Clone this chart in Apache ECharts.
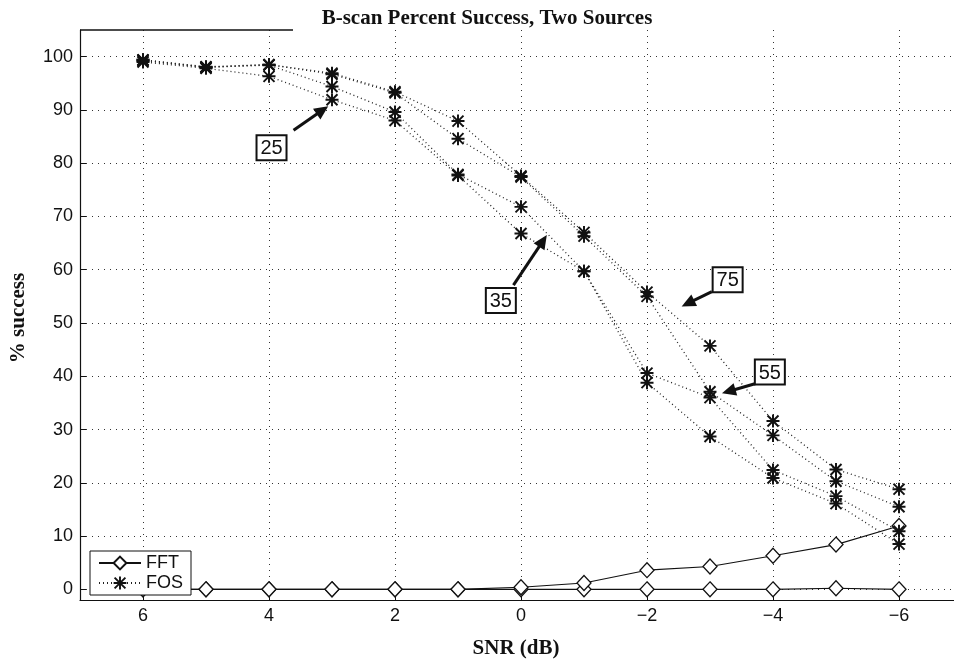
<!DOCTYPE html>
<html>
<head>
<meta charset="utf-8">
<script src="https://cdn.jsdelivr.net/npm/echarts@6/dist/echarts.min.js"></script>
<style>
html,body{margin:0;padding:0;background:#fff;overflow:hidden;}
#chart{width:954px;height:659px;}
</style>
</head>
<body>
<div id="chart"></div>
<script>
// ---- data ----
const snr = [6, 5, 4, 3, 2, 1, 0, -1, -2, -3, -4, -5, -6];
const fos75 = [99.4, 98.1, 98.5, 96.9, 93.4, 87.9, 77.6, 67.0, 55.8, 45.7, 31.6, 22.5, 18.8];
const fos55 = [99.4, 98.0, 98.5, 96.7, 93.2, 84.6, 77.4, 66.3, 55.0, 37.1, 28.9, 20.3, 15.5];
const fos35 = [99.2, 98.0, 98.4, 94.4, 89.6, 77.9, 71.8, 59.7, 40.6, 36.0, 22.4, 17.5, 10.9];
const fos25 = [99.0, 97.8, 96.3, 91.9, 88.0, 77.7, 66.8, 59.7, 38.8, 28.7, 20.9, 16.1, 8.5];
const fftHigh = [0, 0, 0, 0, 0, 0, 0.4, 1.2, 3.6, 4.3, 6.3, 8.4, 11.9];
const fftLow = [0, 0, 0, 0, 0, 0, 0, 0, 0, 0, 0, 0.2, 0];
const xTicks = [6, 4, 2, 0, -2, -4, -6];
const yTicks = [0, 10, 20, 30, 40, 50, 60, 70, 80, 90, 100];
const topTicks = [6, 4];
// annotation labels: [label, box centre, arrow tail, arrow tip] in data coords (SNR, %)
const annLabels = ['25', '35', '75', '55'];
const annBox  = [[3.96, 82.9], [0.32, 54.2], [-3.28, 58.1], [-3.95, 40.8]];
const annTail = [[3.61, 86.2], [0.12, 57.1], [-3.03, 55.9], [-3.74, 38.7]];
const annTip  = [[3.06, 90.7], [-0.41, 66.5], [-2.55, 53.1], [-3.19, 36.8]];

const pair = (ys) => snr.map((x, i) => [x, ys[i]]);
const asterisk = 'path://M8.5 0L11.5 0L11.5 20L8.5 20Z M0 8.5L20 8.5L20 11.5L0 11.5Z M2.6 0.5L19.5 17.4L17.4 19.5L0.5 2.6Z M17.4 0.5L19.5 2.6L2.6 19.5L0.5 17.4Z';

const sansFont = '"Liberation Sans", Arial, sans-serif';
const serifFont = '"Liberation Serif", "Times New Roman", serif';

const chart = echarts.init(document.getElementById('chart'), null, {renderer: 'canvas'});

function fosSeries(ys) {
  return {
    name: 'FOS', type: 'line', data: pair(ys),
    symbol: asterisk, symbolSize: 13,
    itemStyle: {color: '#111'},
    lineStyle: {color: '#222', width: 1.3, type: [1, 3]},
    z: 3
  };
}
function fftSeries(ys) {
  return {
    name: 'FFT', type: 'line', data: pair(ys),
    symbol: 'diamond', symbolSize: [14, 15],
    itemStyle: {color: '#fff', borderColor: '#111', borderWidth: 1.3},
    lineStyle: {color: '#111', width: 1.1, type: 'solid'},
    z: 2
  };
}

const option = {
  animation: false,
  backgroundColor: '#fff',
  title: {
    text: 'B-scan Percent Success, Two Sources',
    left: 482, top: 3, textAlign: 'center',
    textStyle: {fontFamily: serifFont, fontWeight: 'bold', fontSize: 21, color: '#111'}
  },
  grid: {left: 80, top: 30, width: 882, height: 570, containLabel: false, outerBoundsMode: 'none'},
  legend: {
    left: 90, top: 551, orient: 'vertical',
    data: ['FFT', 'FOS'],
    backgroundColor: '#fff', borderColor: '#111', borderWidth: 1,
    padding: [3, 8, 3, 8], itemGap: 2, itemWidth: 42, itemHeight: 16,
    textStyle: {fontFamily: sansFont, fontSize: 18, color: '#111'},
    z: 10
  },
  xAxis: [{
    type: 'value', min: -7, max: 7, inverse: true,
    axisLine: {show: true, onZero: false, lineStyle: {color: '#111', width: 1.2}},
    axisTick: {show: true, inside: true, length: 5, customValues: xTicks, lineStyle: {color: '#111'}},
    axisLabel: {customValues: xTicks, color: '#111', fontFamily: sansFont, fontSize: 18, margin: 7,
      formatter: v => String(v).replace('-', '\u2212')},
    splitLine: {show: true, lineStyle: {color: '#333', width: 1, type: [1, 5]}}
  }, {
    type: 'value', min: -7, max: 7, inverse: true, position: 'top',
    axisLine: {show: false},
    axisTick: {show: true, inside: true, length: 5, customValues: topTicks, lineStyle: {color: '#111'}},
    axisLabel: {show: false},
    splitLine: {show: false}
  }],
  yAxis: {
    type: 'value', min: -2, max: 105,
    axisLine: {show: true, onZero: false, lineStyle: {color: '#111', width: 1.2}},
    axisTick: {show: true, inside: true, length: 6, customValues: yTicks, lineStyle: {color: '#111'}},
    axisLabel: {customValues: yTicks, color: '#111', fontFamily: sansFont, fontSize: 18, margin: 7},
    splitLine: {show: true, lineStyle: {color: '#333', width: 1, type: [1, 5]}}
  },
  series: [
    fftSeries(fftLow), fftSeries(fftHigh),
    fosSeries(fos25), fosSeries(fos35), fosSeries(fos55), fosSeries(fos75)
  ]
};
chart.setOption(option);

// ---- decorations: axis names, partial top frame, annotation boxes and arrows ----
const g = [];
g.push({type: 'line', shape: {x1: 80, y1: 30, x2: 293, y2: 30}, style: {stroke: '#111', lineWidth: 1.5}, z: 5});
g.push({type: 'text', x: 516, y: 649, style: {text: 'SNR (dB)', font: 'bold 21px ' + serifFont, fill: '#111', textAlign: 'center', textVerticalAlign: 'middle'}});
g.push({type: 'text', x: 19, y: 318, rotation: Math.PI / 2, style: {text: '% success', font: 'bold 21px ' + serifFont, fill: '#111', textAlign: 'center', textVerticalAlign: 'middle'}});

annLabels.forEach((lab, i) => {
  const b = chart.convertToPixel({gridIndex: 0}, annBox[i]);
  const t0 = chart.convertToPixel({gridIndex: 0}, annTail[i]);
  const t1 = chart.convertToPixel({gridIndex: 0}, annTip[i]);
  const dx = t1[0] - t0[0], dy = t1[1] - t0[1];
  const L = Math.sqrt(dx * dx + dy * dy);
  const ux = dx / L, uy = dy / L, nx = -uy, ny = ux;
  const hl = 14, hw = 6.5;
  const bx = t1[0] - ux * hl, by = t1[1] - uy * hl;
  g.push({type: 'line', shape: {x1: t0[0], y1: t0[1], x2: bx + ux * 2, y2: by + uy * 2}, style: {stroke: '#111', lineWidth: 3}, z: 20});
  g.push({type: 'polygon', shape: {points: [[t1[0], t1[1]], [bx + nx * hw, by + ny * hw], [bx - nx * hw, by - ny * hw]]}, style: {fill: '#111'}, z: 20});
  g.push({type: 'rect', shape: {x: b[0] - 15, y: b[1] - 12.5, width: 30, height: 25}, style: {fill: '#fff', stroke: '#111', lineWidth: 2}, z: 21});
  g.push({type: 'text', x: b[0], y: b[1] + 1, style: {text: lab, font: '20px ' + sansFont, fill: '#111', textAlign: 'center', textVerticalAlign: 'middle'}, z: 22});
});
chart.setOption({graphic: g});
</script>
</body>
</html>
